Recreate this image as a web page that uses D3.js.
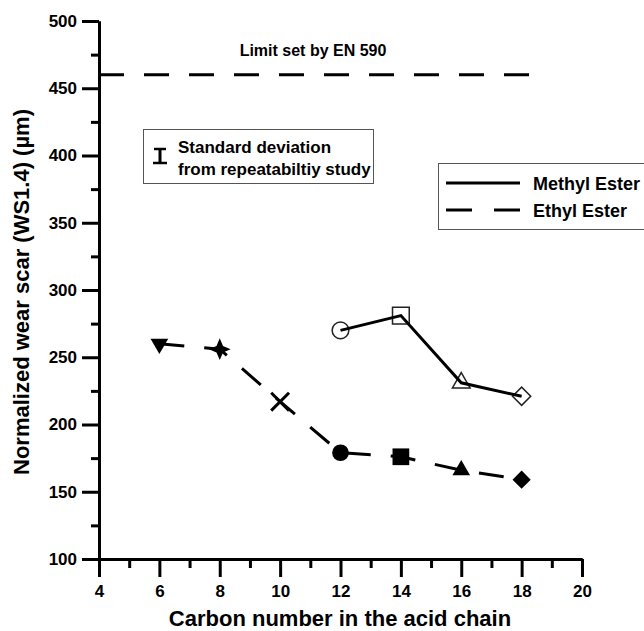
<!DOCTYPE html>
<html lang="en">
<head>
    <meta charset="UTF-8">
    <title>Normalized wear scar vs carbon number</title>
    <style>
        body {
            margin: 0;
            background: #fff;
        }

        svg text {
            font-family: "Liberation Sans", Arial, sans-serif;
            font-weight: bold;
            fill: #000;
        }

        .axis path,
        .axis line {
            stroke: #000;
            stroke-width: 3;
        }

        .axis text {
            font-size: 17px;
        }
    </style>
</head>
<body>

<div id="chart"></div>

<script src="https://d3js.org/d3.v7.min.js"></script>
<script>
    // Data
    const methylCarbon = [12, 14, 16, 18];
    const methylWear = [270, 281, 231, 221];
    const methylShapes = ["circle", "square", "triangle", "diamond"];

    const ethylCarbon = [6, 8, 10, 12, 14, 16, 18];
    const ethylWear = [260, 256, 217, 179, 176, 166, 159];
    const ethylShapes = ["triangleDown", "star4", "x", "circle", "square", "triangle", "diamond"];

    const limitValue = 460;
    const limitLabel = "Limit set by EN 590";

    const xTicks = [4, 6, 8, 10, 12, 14, 16, 18, 20];
    const xMinorTicks = [5, 7, 9, 11, 13, 15, 17, 19];
    const yTicks = [100, 150, 200, 250, 300, 350, 400, 450, 500];
    const yMinorTicks = [125, 175, 225, 275, 325, 375, 425, 475];

    const width = 644;
    const height = 631;

    const svg = d3.select("#chart")
        .append("svg")
        .attr("width", width)
        .attr("height", height);

    // Scales
    const xScale = d3.scaleLinear().domain([4, 20]).range([99, 582]);
    const yScale = d3.scaleLinear().domain([100, 500]).range([559, 21]);

    // Axes (major + minor)
    svg.append("g")
        .attr("class", "axis")
        .attr("transform", "translate(0,559)")
        .call(d3.axisBottom(xScale).tickValues(xMinorTicks).tickSize(9).tickSizeOuter(0).tickFormat(""));

    svg.append("g")
        .attr("class", "axis")
        .attr("transform", "translate(0,559)")
        .call(d3.axisBottom(xScale).tickValues(xTicks).tickSize(18).tickSizeOuter(0).tickPadding(4))
        .selectAll("text")
        .attr("dy", "0.95em");

    svg.append("g")
        .attr("class", "axis")
        .attr("transform", "translate(99,0)")
        .call(d3.axisLeft(yScale).tickValues(yMinorTicks).tickSize(8).tickSizeOuter(0).tickFormat(""));

    svg.append("g")
        .attr("class", "axis")
        .attr("transform", "translate(99,0)")
        .call(d3.axisLeft(yScale).tickValues(yTicks).tickSize(17).tickSizeOuter(0).tickPadding(5));

    // Axis titles
    svg.append("text")
        .attr("x", 340)
        .attr("y", 626)
        .attr("text-anchor", "middle")
        .style("font-size", "22px")
        .text("Carbon number in the acid chain");

    svg.append("text")
        .attr("transform", "translate(29,292) rotate(-90)")
        .attr("text-anchor", "middle")
        .style("font-size", "22px")
        .text("Normalized wear scar (WS1.4) (\u00b5m)");

    // Limit line
    svg.append("line")
        .attr("x1", xScale(4))
        .attr("x2", xScale(18.6))
        .attr("y1", yScale(limitValue))
        .attr("y2", yScale(limitValue))
        .attr("stroke", "#000")
        .attr("stroke-width", 3)
        .attr("stroke-dasharray", "25 20");

    svg.append("text")
        .attr("x", 313)
        .attr("y", 56)
        .attr("text-anchor", "middle")
        .style("font-size", "16px")
        .text(limitLabel);

    // Custom symbols
    const star4 = {
        draw(context, size) {
            const r = Math.sqrt(size) * 0.75;
            const k = r * 0.3;
            context.moveTo(0, -r);
            context.lineTo(k, -k);
            context.lineTo(r, 0);
            context.lineTo(k, k);
            context.lineTo(0, r);
            context.lineTo(-k, k);
            context.lineTo(-r, 0);
            context.lineTo(-k, -k);
            context.closePath();
        }
    };

    const symbolInfo = {
        circle: { type: d3.symbolCircle, size: 220, rotate: 0 },
        square: { type: d3.symbolSquare, size: 280, rotate: 0 },
        triangle: { type: d3.symbolTriangle, size: 135, rotate: 0 },
        triangleDown: { type: d3.symbolTriangle, size: 135, rotate: 180 },
        diamond: { type: d3.symbolSquare, size: 165, rotate: 45 },
        star4: { type: star4, size: 210, rotate: 0 },
        x: { type: d3.symbolX, size: 210, rotate: 0 }
    };

    const methyl = methylCarbon.map((c, i) => ({ c: c, w: methylWear[i], shape: methylShapes[i] }));
    const ethyl = ethylCarbon.map((c, i) => ({ c: c, w: ethylWear[i], shape: ethylShapes[i] }));

    const line = d3.line()
        .x(d => xScale(d.c))
        .y(d => yScale(d.w));

    // Ethyl ester (dashed, filled markers)
    svg.append("path")
        .datum(ethyl)
        .attr("d", line)
        .attr("fill", "none")
        .attr("stroke", "#000")
        .attr("stroke-width", 3)
        .attr("stroke-dasharray", "25 20");

    svg.selectAll(".ethyl-marker")
        .data(ethyl)
        .enter()
        .append("path")
        .attr("class", "ethyl-marker")
        .attr("transform", d => `translate(${xScale(d.c)},${yScale(d.w)}) rotate(${symbolInfo[d.shape].rotate})`)
        .attr("d", d => d3.symbol().type(symbolInfo[d.shape].type).size(symbolInfo[d.shape].size)())
        .attr("fill", d => d.shape === "x" ? "none" : "#000")
        .attr("stroke", "#000")
        .attr("stroke-width", d => d.shape === "x" ? 3 : 0);

    // Methyl ester (solid, open markers)
    svg.selectAll(".methyl-marker")
        .data(methyl)
        .enter()
        .append("path")
        .attr("class", "methyl-marker")
        .attr("transform", d => `translate(${xScale(d.c)},${yScale(d.w)}) rotate(${symbolInfo[d.shape].rotate})`)
        .attr("d", d => d3.symbol().type(symbolInfo[d.shape].type).size(symbolInfo[d.shape].size)())
        .attr("fill", "none")
        .attr("stroke", "#222")
        .attr("stroke-width", 1.5);

    svg.append("path")
        .datum(methyl)
        .attr("d", line)
        .attr("fill", "none")
        .attr("stroke", "#000")
        .attr("stroke-width", 3);

    // Standard deviation box
    svg.append("rect")
        .attr("x", 143.5)
        .attr("y", 129.5)
        .attr("width", 230)
        .attr("height", 54)
        .attr("fill", "#fff")
        .attr("stroke", "#555")
        .attr("stroke-width", 1);

    const eb = svg.append("g").attr("transform", "translate(160,156)");
    eb.append("line").attr("x1", 0).attr("x2", 0).attr("y1", -7).attr("y2", 7)
        .attr("stroke", "#000").attr("stroke-width", 3);
    eb.append("line").attr("x1", -6).attr("x2", 6).attr("y1", -7).attr("y2", -7)
        .attr("stroke", "#000").attr("stroke-width", 2.5);
    eb.append("line").attr("x1", -7).attr("x2", 7).attr("y1", 7).attr("y2", 7)
        .attr("stroke", "#000").attr("stroke-width", 2.5);

    svg.append("text").attr("x", 178).attr("y", 153).style("font-size", "17px").text("Standard deviation");
    svg.append("text").attr("x", 178).attr("y", 175).style("font-size", "17px").text("from repeatabiltiy study");

    // Series legend
    svg.append("rect")
        .attr("x", 438.5)
        .attr("y", 163.5)
        .attr("width", 210)
        .attr("height", 66)
        .attr("fill", "#fff")
        .attr("stroke", "#555")
        .attr("stroke-width", 1);

    svg.append("line").attr("x1", 446).attr("x2", 520).attr("y1", 183).attr("y2", 183)
        .attr("stroke", "#000").attr("stroke-width", 3);
    svg.append("line").attr("x1", 446).attr("x2", 520).attr("y1", 210).attr("y2", 210)
        .attr("stroke", "#000").attr("stroke-width", 3).attr("stroke-dasharray", "26 22");

    svg.append("text").attr("x", 533).attr("y", 190).style("font-size", "18px").text("Methyl Ester");
    svg.append("text").attr("x", 533).attr("y", 217).style("font-size", "18px").text("Ethyl Ester");
</script>

</body>
</html>
